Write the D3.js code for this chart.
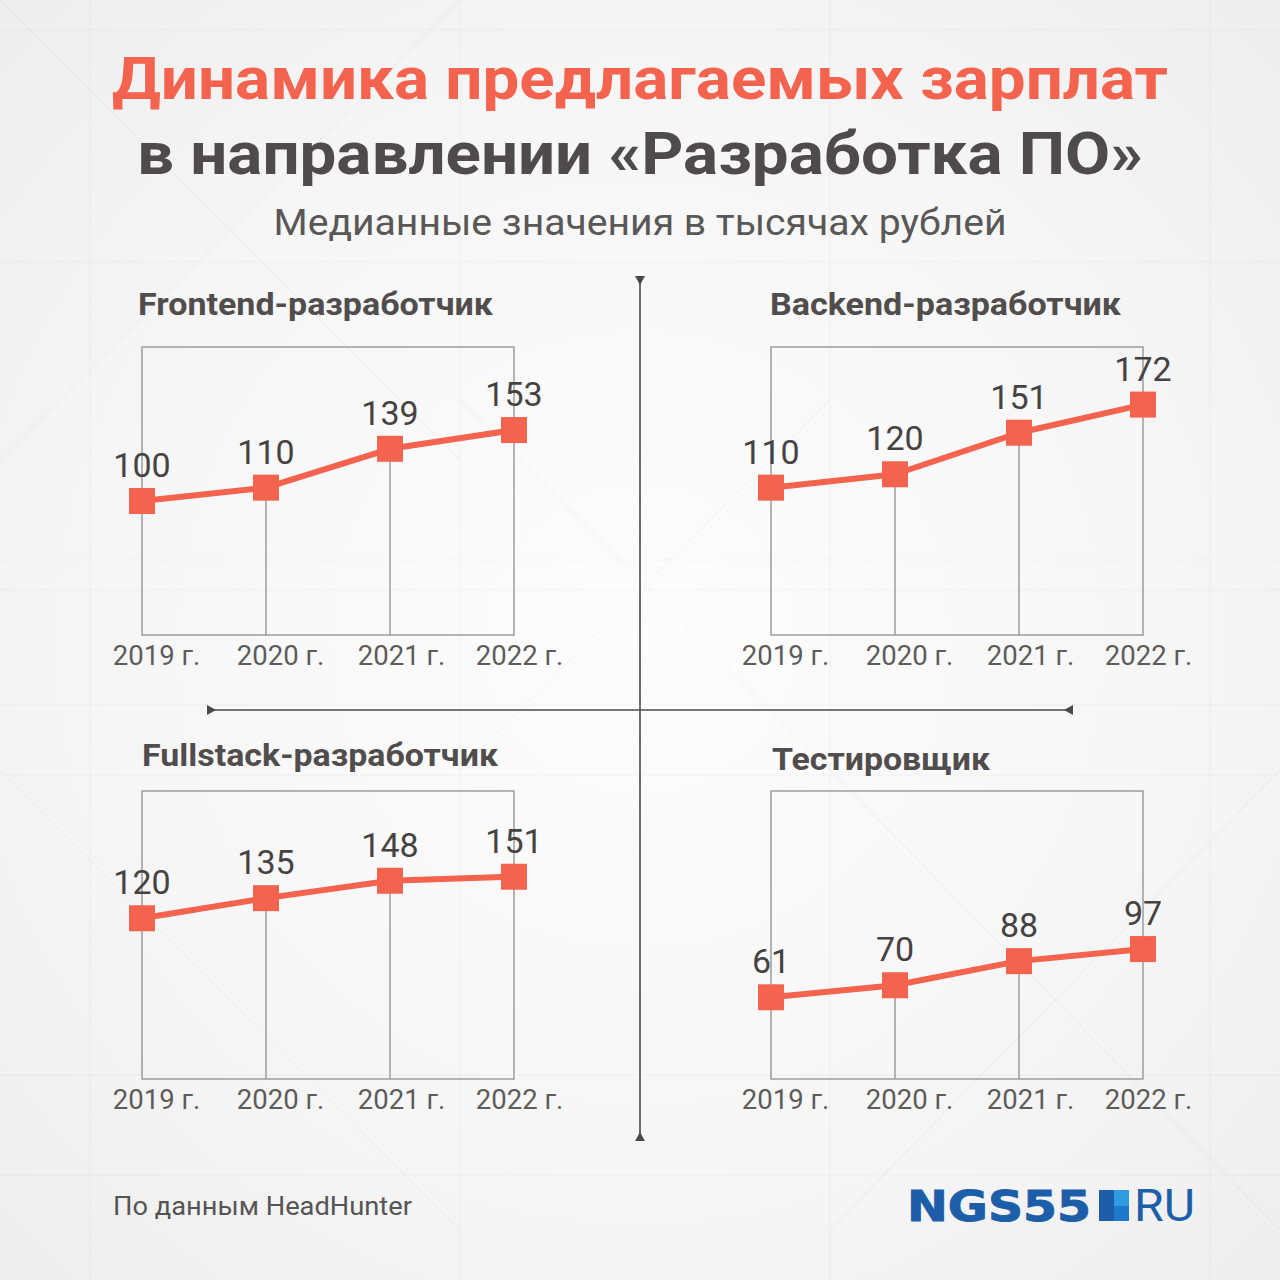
<!DOCTYPE html>
<html>
<head>
<meta charset="utf-8">
<script src="https://cdn.jsdelivr.net/npm/d3@7"></script>
<style>
  html, body { margin: 0; padding: 0; background: #f3f3f3; }
  svg { display: block; }
</style>
</head>
<body>
<svg id="chart" width="1280" height="1280"></svg>
<script>
// ---------- DATA ----------
const years = ["2019 г.", "2020 г.", "2021 г.", "2022 г."];
const panelTitles = ["Frontend-разработчик", "Backend-разработчик", "Fullstack-разработчик", "Тестировщик"];
const frontend = [100, 110, 139, 153];
const backend = [110, 120, 151, 172];
const fullstack = [120, 135, 148, 151];
const tester = [61, 70, 88, 97];
const titleLine1 = "Динамика предлагаемых зарплат";
const titleLine2 = "в направлении «Разработка ПО»";
const subtitle = "Медианные значения в тысячах рублей";
const sourceText = "По данным HeadHunter";

// ---------- SETUP ----------
const svg = d3.select("#chart");
const W = 1280, H = 1280;
const coral = "#f3634e";
const dark = "#4f4b4b";
const textGray = "#514d4d";
const font = "Roboto, 'Noto Sans', sans-serif";

// background
const defs = svg.append("defs");
const rg = defs.append("radialGradient").attr("id", "bg").attr("cx", "50%").attr("cy", "50%").attr("r", "70%");
rg.append("stop").attr("offset", "0%").attr("stop-color", "#fdfdfd");
rg.append("stop").attr("offset", "60%").attr("stop-color", "#f6f6f6");
rg.append("stop").attr("offset", "100%").attr("stop-color", "#eeeeee");
svg.append("rect").attr("width", W).attr("height", H).attr("fill", "url(#bg)");

// faint decorative texture
const tex = svg.append("g").attr("stroke", "#000").attr("stroke-opacity", 0.035).attr("stroke-width", 1.2).attr("fill", "none");
[30, 262, 560, 590, 705, 775, 1075, 1175].forEach(y => tex.append("line").attr("x1", 0).attr("x2", W).attr("y1", y).attr("y2", y));
[90, 460, 830, 1210].forEach(x => tex.append("line").attr("x1", x).attr("x2", x).attr("y1", 0).attr("y2", H));
[[0, 0, 460, 460], [460, 0, 0, 460], [460, 400, 830, 770], [830, 400, 460, 770], [0, 770, 460, 1230], [830, 770, 1280, 1230], [1280, 770, 830, 1230]].forEach(d =>
  tex.append("line").attr("x1", d[0]).attr("y1", d[1]).attr("x2", d[2]).attr("y2", d[3]));

// ---------- TITLES ----------
svg.append("text").attr("x", 640).attr("y", 99).attr("text-anchor", "middle")
  .attr("font-family", font).attr("font-weight", 700).attr("font-size", 60)
  .attr("fill", coral).attr("textLength", 1056).attr("lengthAdjust", "spacingAndGlyphs").text(titleLine1);
svg.append("text").attr("x", 640).attr("y", 174).attr("text-anchor", "middle")
  .attr("font-family", font).attr("font-weight", 700).attr("font-size", 60)
  .attr("fill", dark).attr("textLength", 1006).attr("lengthAdjust", "spacingAndGlyphs").text(titleLine2);
svg.append("text").attr("x", 640).attr("y", 235).attr("text-anchor", "middle")
  .attr("font-family", font).attr("font-weight", 400).attr("font-size", 36)
  .attr("fill", "#5a5757").attr("textLength", 733).attr("lengthAdjust", "spacingAndGlyphs").text(subtitle);

// ---------- DIVIDERS ----------
const div = svg.append("g").attr("fill", "#4a4a4a").attr("stroke", "#4a4a4a");
div.append("line").attr("x1", 640).attr("x2", 640).attr("y1", 276).attr("y2", 1141).attr("stroke-width", 1.6);
div.append("line").attr("x1", 207).attr("x2", 1073).attr("y1", 710).attr("y2", 710).attr("stroke-width", 1.6);
const tri = 5, th = 9;
div.append("path").attr("stroke", "none").attr("d", `M${640 - tri},276 L${640 + tri},276 L640,${276 + th} Z`);
div.append("path").attr("stroke", "none").attr("d", `M${640 - tri},1141 L${640 + tri},1141 L640,${1141 - th} Z`);
div.append("path").attr("stroke", "none").attr("d", `M207,${710 - tri} L207,${710 + tri} L${207 + th},710 Z`);
div.append("path").attr("stroke", "none").attr("d", `M1073,${710 - tri} L1073,${710 + tri} L${1073 - th},710 Z`);

// ---------- PANELS ----------
const panels = [
  { title: panelTitles[0], values: frontend, x0: 142, y0: 347, tx: 138, ty: 315, tw: 355 },
  { title: panelTitles[1], values: backend, x0: 771, y0: 347, tx: 770, ty: 315, tw: 351 },
  { title: panelTitles[2], values: fullstack, x0: 142, y0: 791, tx: 142, ty: 766, tw: 356 },
  { title: panelTitles[3], values: tester, x0: 771, y0: 791, tx: 772, ty: 770, tw: 218 }
];
const pw = 372, ph = 288;

panels.forEach(p => {
  const g = svg.append("g").attr("transform", `translate(${p.x0},${p.y0})`);
  const x = d3.scalePoint().domain(years).range([0, pw]).padding(0);
  const y = d3.scaleLinear().domain([0, 215]).range([ph, 0]);

  // title
  svg.append("text").attr("x", p.tx).attr("y", p.ty)
    .attr("font-family", font).attr("font-weight", 700).attr("font-size", 31)
    .attr("fill", textGray).attr("textLength", p.tw).attr("lengthAdjust", "spacingAndGlyphs").text(p.title);

  // frame
  g.append("rect").attr("x", 0).attr("y", 0).attr("width", pw).attr("height", ph)
    .attr("fill", "none").attr("stroke", "#8f8f8f").attr("stroke-width", 1.3);

  // vertical drop lines for inner ticks
  g.selectAll("line.drop").data(years.slice(1, -1)).join("line").attr("class", "drop")
    .attr("x1", d => x(d)).attr("x2", d => x(d))
    .attr("y1", d => y(p.values[years.indexOf(d)])).attr("y2", ph)
    .attr("stroke", "#8f8f8f").attr("stroke-width", 1.3);

  // x axis labels via d3 axis
  const ax = g.append("g").attr("transform", `translate(0,${ph})`)
    .call(d3.axisBottom(x).tickSize(0).tickPadding(10));
  ax.select(".domain").remove();
  ax.selectAll("text").attr("font-family", font).attr("font-size", 27.5).attr("fill", "#5e5b5b")
    .attr("dx", (d, i) => [14, 14, 11, 5][i]);

  // line
  const line = d3.line().x((d, i) => x(years[i])).y(d => y(d));
  g.append("path").datum(p.values).attr("d", line)
    .attr("fill", "none").attr("stroke", coral).attr("stroke-width", 6).attr("stroke-linejoin", "round");

  // markers
  const s = 26;
  g.selectAll("rect.m").data(p.values).join("rect").attr("class", "m")
    .attr("x", (d, i) => x(years[i]) - s / 2).attr("y", d => y(d) - s / 2)
    .attr("width", s).attr("height", s).attr("fill", coral);

  // value labels
  g.selectAll("text.v").data(p.values).join("text").attr("class", "v")
    .attr("x", (d, i) => x(years[i])).attr("y", d => y(d) - 24)
    .attr("text-anchor", "middle").attr("font-family", font).attr("font-size", 34).attr("font-weight", 400)
    .attr("fill", "#464242").text(d => d);
});

// ---------- FOOTER ----------
svg.append("text").attr("x", 113).attr("y", 1215)
  .attr("font-family", font).attr("font-size", 25).attr("fill", "#555")
  .attr("textLength", 299).attr("lengthAdjust", "spacingAndGlyphs").text(sourceText);

// logo
const logo = svg.append("g");
logo.append("text").attr("x", 907).attr("y", 1221)
  .attr("font-family", "'DejaVu Sans', sans-serif").attr("font-weight", 700).attr("font-size", 42)
  .attr("fill", "#1d5ea9").attr("stroke", "#1d5ea9").attr("stroke-width", 1)
  .attr("textLength", 184).attr("lengthAdjust", "spacingAndGlyphs").text("NGS55");
logo.append("rect").attr("x", 1099).attr("y", 1190).attr("width", 15).attr("height", 31).attr("fill", "#1d5ea9");
logo.append("rect").attr("x", 1114).attr("y", 1190).attr("width", 15).attr("height", 16).attr("fill", "#2f9ce2");
logo.append("rect").attr("x", 1114).attr("y", 1206).attr("width", 15).attr("height", 15).attr("fill", "#1f78cc");
logo.append("text").attr("x", 1134).attr("y", 1221)
  .attr("font-family", font).attr("font-weight", 400).attr("font-size", 44)
  .attr("fill", "#1d5ea9").attr("textLength", 61).attr("lengthAdjust", "spacingAndGlyphs").text("RU");
</script>
</body>
</html>
